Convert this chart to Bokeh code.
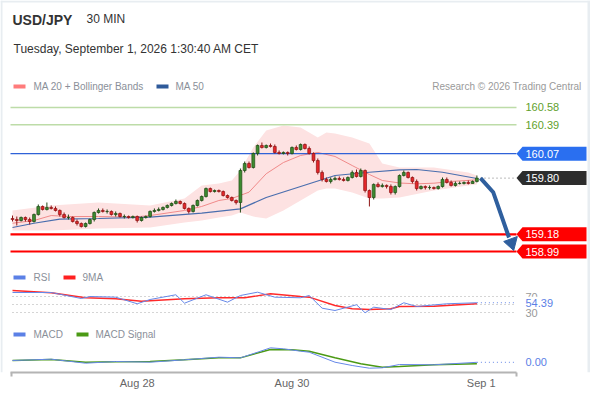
from bokeh.plotting import figure
from bokeh.models import Range1d, FixedTicker, ColumnDataSource
from bokeh.core.properties import value
from bokeh.embed import file_html
from bokeh.resources import INLINE

# ---------------- data ----------------
pair = "USD/JPY"
timeframe = "30 MIN"
stamp = "Tuesday, September 1, 2026 1:30:40 AM CET"
credit = "Research \u00a9 2026 Trading Central"

open_ = [159.354, 159.343, 159.332, 159.365, 159.343, 159.321, 159.398, 159.487, 159.454, 159.476,
         159.465, 159.443, 159.398, 159.365, 159.365, 159.321, 159.299, 159.266, 159.299, 159.343,
         159.420, 159.443, 159.432, 159.432, 159.398, 159.409, 159.376, 159.376, 159.365, 159.376,
         159.332, 159.365, 159.376, 159.432, 159.443, 159.454, 159.476, 159.498, 159.520, 159.542,
         159.520, 159.465, 159.432, 159.498, 159.553, 159.597, 159.685, 159.652, 159.663, 159.652,
         159.608, 159.586, 159.553, 159.531, 159.884, 159.961, 159.917, 160.072, 160.160, 160.138,
         160.160, 160.149, 160.083, 160.072, 160.083, 160.072, 160.138, 160.116, 160.171, 160.127,
         160.072, 159.994, 159.862, 159.785, 159.763, 159.785, 159.796, 159.785, 159.774, 159.807,
         159.862, 159.818, 159.884, 159.663, 159.586, 159.730, 159.707, 159.719, 159.707, 159.641,
         159.707, 159.829, 159.862, 159.807, 159.763, 159.685, 159.707, 159.696, 159.696, 159.685,
         159.707, 159.785, 159.752, 159.719, 159.741, 159.741, 159.752, 159.741, 159.763]
close = [159.343, 159.332, 159.365, 159.343, 159.321, 159.398, 159.487, 159.454, 159.476, 159.465,
         159.443, 159.398, 159.365, 159.365, 159.321, 159.299, 159.266, 159.299, 159.343, 159.420,
         159.443, 159.432, 159.432, 159.398, 159.409, 159.376, 159.376, 159.365, 159.376, 159.332,
         159.365, 159.376, 159.432, 159.443, 159.454, 159.476, 159.498, 159.520, 159.542, 159.520,
         159.465, 159.432, 159.498, 159.553, 159.597, 159.685, 159.652, 159.663, 159.652, 159.608,
         159.586, 159.553, 159.531, 159.884, 159.961, 159.917, 160.072, 160.160, 160.138, 160.160,
         160.149, 160.083, 160.072, 160.083, 160.072, 160.138, 160.116, 160.171, 160.127, 160.072,
         159.994, 159.862, 159.785, 159.763, 159.785, 159.796, 159.785, 159.774, 159.807, 159.862,
         159.818, 159.884, 159.663, 159.586, 159.730, 159.707, 159.719, 159.707, 159.641, 159.707,
         159.829, 159.862, 159.807, 159.763, 159.685, 159.707, 159.696, 159.696, 159.685, 159.707,
         159.785, 159.752, 159.719, 159.741, 159.741, 159.752, 159.741, 159.763, 159.800]
high = [159.387, 159.376, 159.376, 159.376, 159.365, 159.409, 159.509, 159.498, 159.531, 159.498,
        159.487, 159.454, 159.420, 159.398, 159.376, 159.343, 159.310, 159.310, 159.354, 159.432,
        159.465, 159.465, 159.454, 159.443, 159.432, 159.420, 159.398, 159.387, 159.387, 159.387,
        159.376, 159.387, 159.443, 159.465, 159.476, 159.487, 159.509, 159.531, 159.564, 159.553,
        159.531, 159.476, 159.509, 159.564, 159.608, 159.696, 159.696, 159.674, 159.674, 159.663,
        159.619, 159.597, 159.564, 159.906, 159.983, 159.983, 160.083, 160.171, 160.193, 160.171,
        160.182, 160.171, 160.105, 160.094, 160.094, 160.149, 160.160, 160.182, 160.182, 160.149,
        160.083, 160.017, 159.884, 159.807, 159.807, 159.818, 159.818, 159.807, 159.818, 159.884,
        159.895, 159.906, 159.895, 159.674, 159.741, 159.752, 159.741, 159.730, 159.730, 159.719,
        159.840, 159.884, 159.873, 159.818, 159.785, 159.719, 159.719, 159.719, 159.707, 159.719,
        159.807, 159.807, 159.774, 159.763, 159.763, 159.763, 159.774, 159.774, 159.829]
low = [159.321, 159.277, 159.321, 159.321, 159.288, 159.310, 159.387, 159.443, 159.443, 159.454,
       159.432, 159.376, 159.354, 159.343, 159.310, 159.277, 159.255, 159.255, 159.288, 159.321,
       159.409, 159.420, 159.409, 159.387, 159.376, 159.365, 159.354, 159.354, 159.354, 159.310,
       159.321, 159.354, 159.365, 159.420, 159.432, 159.443, 159.465, 159.487, 159.509, 159.509,
       159.454, 159.409, 159.420, 159.487, 159.542, 159.586, 159.641, 159.641, 159.641, 159.597,
       159.575, 159.542, 159.509, 159.420, 159.862, 159.906, 159.906, 160.050, 160.127, 160.127,
       160.138, 160.072, 160.061, 160.061, 160.050, 160.061, 160.105, 160.105, 160.116, 160.061,
       159.972, 159.840, 159.763, 159.752, 159.741, 159.774, 159.774, 159.763, 159.763, 159.796,
       159.807, 159.807, 159.641, 159.487, 159.564, 159.696, 159.696, 159.685, 159.619, 159.619,
       159.696, 159.818, 159.796, 159.741, 159.663, 159.674, 159.674, 159.674, 159.674, 159.674,
       159.696, 159.741, 159.707, 159.707, 159.730, 159.730, 159.730, 159.741, 159.752]

ma20_idx = [0, 5, 9, 13, 20, 28, 32, 40, 44, 48, 51, 55, 59, 63, 67, 71, 75, 79, 83, 86, 90, 94, 98, 102, 108]
ma20 = [159.302, 159.332, 159.387, 159.376, 159.376, 159.369, 159.387, 159.443, 159.487, 159.553, 159.575,
        159.645, 159.848, 159.972, 160.050, 160.083, 160.039, 159.939, 159.840, 159.774, 159.746, 159.737,
        159.744, 159.763, 159.781]
bb_idx = [0, 9, 20, 32, 40, 44, 48, 51, 53, 56, 59, 63, 67, 71, 73, 75, 79, 83, 86, 90, 98, 106, 108]
bb_upper = [159.443, 159.498, 159.531, 159.498, 159.575, 159.719, 159.741, 159.774, 159.884, 160.138, 160.326,
            160.381, 160.359, 160.248, 160.304, 160.292, 160.248, 160.182, 159.961, 159.917, 159.917, 159.862,
            159.829]
bb_lower = [159.222, 159.222, 159.244, 159.255, 159.310, 159.332, 159.365, 159.387, 159.420, 159.376, 159.354,
            159.443, 159.553, 159.663, 159.685, 159.685, 159.641, 159.575, 159.575, 159.586, 159.663, 159.719,
            159.730]
ma50_idx = [0, 5, 11, 20, 32, 44, 53, 59, 67, 75, 83, 90, 94, 100, 108]
ma50 = [159.255, 159.302, 159.347, 159.354, 159.369, 159.413, 159.461, 159.586, 159.707, 159.829, 159.865,
        159.892, 159.895, 159.865, 159.796]

rsi_idx = [0, 9, 16, 18, 24, 29, 32, 38, 40, 45, 50, 53, 57, 61, 67, 69, 72, 75, 80, 82, 84, 88, 91, 94, 101, 108]
rsi = [80, 80, 65, 70, 68.3, 51.8, 62.5, 74.3, 53.3, 74.3, 55.8, 72.5, 80.8, 68.3, 66.8, 72.5, 40.8, 35,
       49.3, 29.3, 43.3, 37.5, 54.3, 45, 51.8, 54.39]
rsi_ma_idx = [0, 9, 17, 24, 30, 40, 48, 54, 60, 67, 69, 75, 79, 83, 88, 90, 98, 108]
rsi_ma = [85, 79.3, 66.8, 64.3, 58.3, 64.3, 66.8, 66.8, 76.8, 70, 68.3, 47.5, 39.3, 37.5, 39.3, 45, 45.8, 51.8]
rsi_levels = [70, 50, 30]

macd_idx = [0, 9, 17, 24, 32, 40, 48, 53, 57, 60, 63, 67, 69, 75, 79, 83, 86, 90, 98, 108]
macd = [0.010, 0.0165, -0.0035, 0.005, 0.0015, 0.0135, 0.0265, 0.0235, 0.0515, 0.0735, 0.0685, 0.0565,
        0.0515, 0.0015, -0.015, -0.0285, -0.0265, -0.010, -0.0115, 0.001]
sig_idx = [0, 9, 17, 24, 32, 40, 48, 53, 60, 65, 69, 75, 81, 86, 90, 98, 108]
sig = [0.010, 0.015, 0.0015, 0.0035, 0.005, 0.0135, 0.0235, 0.0235, 0.065, 0.0635, 0.0565, 0.0235, -0.0065,
       -0.0235, -0.020, -0.0115, -0.0065]

resistances = [160.58, 160.39]
pivot = 160.07
last_price = 159.80
supports = [159.18, 158.99]
rsi_last = 54.39
macd_last = 0.00

tick_idx = [29, 65, 109]
tick_labels = ["Aug 28", "Aug 30", "Sep 1"]

# ---------------- layout (pixels of the reference picture) ----------------
W, H = 590, 400
C0_PX, C_STEP = 12.0, 4.3
PRICE_PX, PRICE_AT, PX_PER_PRICE = 251.0, 158.99, 90.6
RSI_PX, RSI_AT, PX_PER_RSI = 312.0, 30.0, 0.4
MACD_PX, PX_PER_MACD = 362.0, 200.0
TOP_PX, BOTTOM_PX, LEFT_PX, RIGHT_PX = 0.0, 372.0, 0.0, 590.0
LINE_END = 516.0


def xd(px):
    return (px - C0_PX) / C_STEP


def yd(py):
    return PRICE_AT + (PRICE_PX - py) / PX_PER_PRICE


def rsi_at(py):
    return RSI_AT + (RSI_PX - py) / PX_PER_RSI


def macd_at(py):
    return (MACD_PX - py) / PX_PER_MACD


def hp(n):
    return n / PX_PER_PRICE


FONT = value("Liberation Sans")

p = figure(width=W, height=H, output_backend="svg", toolbar_location=None,
           x_range=Range1d(xd(LEFT_PX), xd(RIGHT_PX)),
           y_range=Range1d(yd(BOTTOM_PX), yd(TOP_PX)),
           y_axis_location=None,
           min_border_left=0, min_border_right=0, min_border_top=0,
           min_border_bottom=int(H - BOTTOM_PX))
p.extra_y_ranges = {"rsi": Range1d(rsi_at(BOTTOM_PX), rsi_at(TOP_PX)),
                    "macd": Range1d(macd_at(BOTTOM_PX), macd_at(TOP_PX))}
p.grid.visible = False
p.outline_line_color = None
p.background_fill_color = "white"
p.border_fill_color = "white"

ax = p.xaxis[0]
ax.ticker = FixedTicker(ticks=tick_idx, minor_ticks=[xd(10.5), xd(515.5)])
ax.major_label_overrides = dict(zip(tick_idx, tick_labels))
ax.major_tick_line_color = None
ax.major_tick_out = 0
ax.major_tick_in = 0
ax.minor_tick_in = 0
ax.minor_tick_out = 4
ax.minor_tick_line_color = "#b4b4b4"
ax.minor_tick_line_width = 2
ax.axis_line_color = "#b4b4b4"
ax.axis_line_width = 2
ax.bounds = (xd(10), xd(LINE_END))
ax.major_label_text_font = "Liberation Sans"
ax.major_label_text_font_size = "11px"
ax.major_label_text_color = "#666666"
ax.major_label_standoff = 0


def txt(px, py, s, color, size, align="left", style="normal"):
    p.text(x=[xd(px)], y=[yd(py)], text=[s], text_color=color, text_font=FONT,
           text_font_size=size, text_align=align, text_baseline="middle", text_font_style=style)


def swatch(px0, px1, py, color):
    p.quad(left=[xd(px0)], right=[xd(px1)], top=[yd(py - 2)], bottom=[yd(py + 2)],
           fill_color=color, line_color=None)


# panel border (left / top / right)
p.quad(left=[xd(0), xd(0), xd(587)], right=[xd(2), xd(590), xd(590)],
       top=[yd(0), yd(0), yd(0)], bottom=[yd(372), yd(2), yd(372)],
       fill_color="#e8edf1", line_color=None)

# header
txt(12, 19, pair, "#333333", "14px", style="bold")
txt(86, 18, timeframe, "#333333", "12px")
txt(13, 48, stamp, "#333333", "12px")
swatch(13, 25, 86, "#ff7b7b")
txt(33, 86, "MA 20 + Bollinger Bands", "#8a8f99", "10px")
swatch(156, 168, 86, "#2f5a9a")
txt(175, 86, "MA 50", "#8a8f99", "10px")
txt(581, 86, credit, "#9a9a9a", "10px", align="right")

# bollinger + moving averages
p.varea(x=bb_idx, y1=bb_lower, y2=bb_upper, fill_color="#fde2e2")
p.line(ma20_idx, ma20, line_color="#f08a8a", line_width=1)
p.line(ma50_idx, ma50, line_color="#4a6eae", line_width=1.2)

# level lines
for lvl in resistances:
    p.segment(x0=[xd(10)], y0=[lvl], x1=[xd(LINE_END)], y1=[lvl], line_color="#bddca8", line_width=1.5)
    txt(525, PRICE_PX - (lvl - PRICE_AT) * PX_PER_PRICE, f"{lvl:.2f}", "#5f9f2c", "11px")
p.segment(x0=[xd(10)], y0=[pivot], x1=[xd(LINE_END)], y1=[pivot], line_color="#2f62d8", line_width=1.3)
for lvl in supports:
    p.segment(x0=[xd(10)], y0=[lvl], x1=[xd(LINE_END)], y1=[lvl], line_color="#ff0000", line_width=2.2)
p.segment(x0=[xd(480)], y0=[last_price], x1=[xd(LINE_END)], y1=[last_price],
          line_color="#777777", line_width=1, line_dash="1 3")

# candles
n = len(close)
xs = list(range(n))
up = [c >= o for o, c in zip(open_, close)]
src = ColumnDataSource(dict(
    x=xs, high=high, low=low,
    top=[max(o, c) for o, c in zip(open_, close)],
    bottom=[min(o, c) for o, c in zip(open_, close)],
    fill=["#3d8b2f" if u else "#e4262a" for u in up],
    edge=["#1f4a16" if u else "#8e1414" for u in up],
))
p.segment("x", "high", "x", "low", source=src, line_color="edge", line_width=1)
p.vbar(x="x", width=0.66, top="top", bottom="bottom", source=src,
       fill_color="fill", line_color="edge", line_width=0.7)

# projection arrow
p.line([xd(480), xd(492.7), xd(508.5)], [last_price, yd(191.7), yd(237)],
       line_color="#2f5f9e", line_width=4, line_join="miter")
p.patch([xd(503.2), xd(516.8), xd(513.2)], [yd(241), yd(236), yd(250)],
        fill_color="#2f5f9e", line_color="#2f5f9e", line_width=1)


# right-hand price tags
def tag(lvl, color):
    h = hp(7)
    p.patch([xd(516), xd(522), xd(586), xd(586), xd(522)],
            [lvl, lvl + h, lvl + h, lvl - h, lvl - h], fill_color=color, line_color=None)
    p.text(x=[xd(525)], y=[lvl], text=[f"{lvl:.2f}"], text_color="white", text_font=FONT,
           text_font_size="11px", text_baseline="middle", text_align="left")


tag(pivot, "#2a6ff0")
tag(last_price, "#2d2d2d")
for lvl in supports:
    tag(lvl, "#ff0000")

# RSI panel
swatch(13, 25, 277, "#5b80e6")
txt(33, 277, "RSI", "#8a8f99", "10px")
swatch(63, 75, 277, "#ff2020")
txt(82, 277, "9MA", "#8a8f99", "10px")
p.segment(x0=[xd(12)] * 3, y0=rsi_levels, x1=[xd(LINE_END)] * 3, y1=rsi_levels,
          line_color="#aaaaaa", line_width=1, line_dash="1 3", y_range_name="rsi")
p.line(rsi_ma_idx, rsi_ma, line_color="#ff2a2a", line_width=1.4, y_range_name="rsi")
p.line(rsi_idx, rsi, line_color="#6688e8", line_width=1, y_range_name="rsi")
p.segment(x0=[rsi_idx[-1]], y0=[rsi_last], x1=[xd(LINE_END)], y1=[rsi_last],
          line_color="#6688e8", line_width=1, line_dash="1 3", y_range_name="rsi")
for lv in (rsi_levels[0], rsi_levels[2]):
    p.text(x=[xd(525)], y=[lv], text=[str(lv)], text_color="#999999", text_font=FONT,
           text_font_size="11px", text_baseline="middle", y_range_name="rsi")
p.quad(left=[xd(521)], right=[xd(562)], top=[rsi_last + 6 / PX_PER_RSI], bottom=[rsi_last - 6 / PX_PER_RSI],
       fill_color="white", line_color=None, y_range_name="rsi")
p.text(x=[xd(525)], y=[rsi_last], text=[f"{rsi_last:.2f}"], text_color="#5b80e6", text_font=FONT,
       text_font_size="11px", text_baseline="middle", y_range_name="rsi")

# MACD panel
swatch(13, 25, 334, "#5b80e6")
txt(33, 334, "MACD", "#8a8f99", "10px")
swatch(76, 88, 334, "#4b9a14")
txt(95, 334, "MACD Signal", "#8a8f99", "10px")
p.line(sig_idx, sig, line_color="#4b9a14", line_width=1.4, y_range_name="macd")
p.line(macd_idx, macd, line_color="#6688e8", line_width=1, y_range_name="macd")
p.segment(x0=[macd_idx[-1]], y0=[macd[-1]], x1=[xd(LINE_END)], y1=[macd[-1]],
          line_color="#6688e8", line_width=1, line_dash="1 3", y_range_name="macd")
p.text(x=[xd(525)], y=[macd[-1]], text=[f"{macd_last:.2f}"], text_color="#5b80e6", text_font=FONT,
       text_font_size="11px", text_baseline="middle", y_range_name="macd")

open("out.html", "w").write(file_html(p, INLINE))
